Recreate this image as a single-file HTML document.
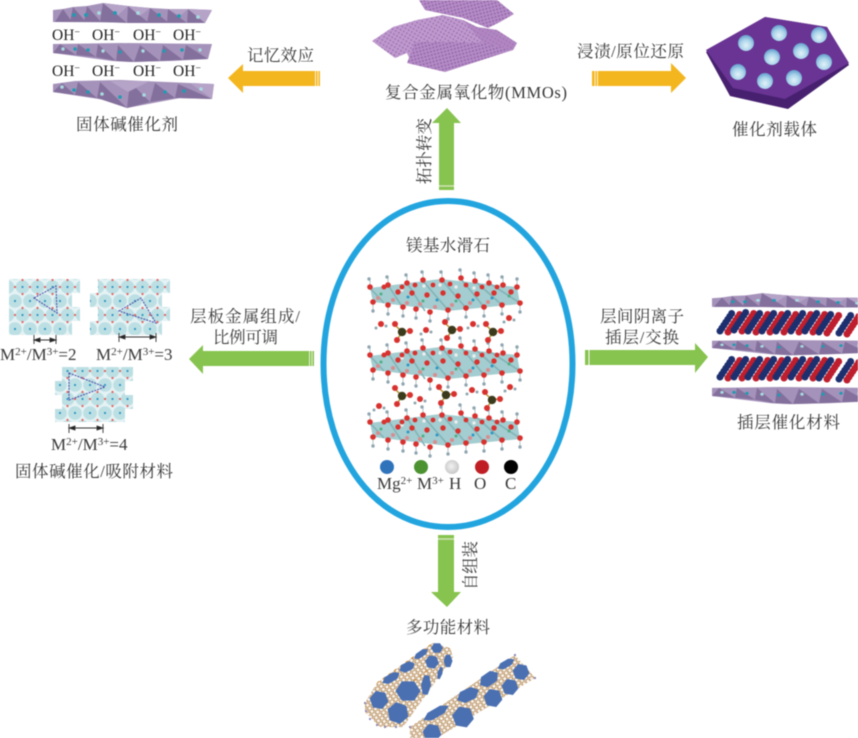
<!DOCTYPE html>
<html><head><meta charset="utf-8"><style>
html,body{margin:0;padding:0;background:#fff;width:858px;height:738px;overflow:hidden}
svg{display:block;filter:blur(.5px)}
text{font-family:"Liberation Serif","Noto Serif CJK SC",serif;fill:#383838;font-size:16.5px}
.s{font-family:"Liberation Serif",serif;font-size:17px}
.oh{font-family:"Liberation Serif",serif;font-size:15.5px;fill:#222}
</style></head><body>
<svg width="858" height="738" viewBox="0 0 858 738" xmlns="http://www.w3.org/2000/svg">
<defs>
<radialGradient id="ball" cx=".5" cy=".65" r=".6"><stop offset="0" stop-color="#e4f2f8"/><stop offset=".6" stop-color="#a9d3ea"/><stop offset="1" stop-color="#6ea6d2"/></radialGradient>
<radialGradient id="hg" cx=".45" cy=".45" r=".6"><stop offset="0" stop-color="#f2f2f2"/><stop offset="1" stop-color="#c4c4c4"/></radialGradient>
<pattern id="sheet" width="3.6" height="3.6" patternUnits="userSpaceOnUse" patternTransform="rotate(30)"><rect width="3.6" height="3.6" fill="#bf9ace"/><circle cx="1.8" cy="1.8" r="1" fill="#a277b5"/></pattern>
<pattern id="sheet2" width="3.4" height="3.4" patternUnits="userSpaceOnUse" patternTransform="rotate(-15)"><rect width="3.4" height="3.4" fill="#b48cc5"/><circle cx="1.7" cy="1.7" r="1" fill="#9566ab"/></pattern>
<pattern id="lat" width="15" height="28" patternUnits="userSpaceOnUse">
<rect width="15" height="28" fill="#e4f2f4"/>
<circle cx="7.5" cy="7" r="6.8" fill="#bcdfe3"/><circle cx="0" cy="21" r="6.8" fill="#bcdfe3"/><circle cx="15" cy="21" r="6.8" fill="#bcdfe3"/>
<circle cx="7.5" cy="7" r="1.1" fill="#2f97c4"/><circle cx="0" cy="21" r="1.1" fill="#2f97c4"/><circle cx="15" cy="21" r="1.1" fill="#2f97c4"/>
<circle cx="0" cy="7" r="1.1" fill="#e45f5b"/><circle cx="15" cy="7" r="1.1" fill="#e45f5b"/><circle cx="7.5" cy="0" r="1.1" fill="#e45f5b"/><circle cx="7.5" cy="14" r="1.1" fill="#e45f5b"/><circle cx="7.5" cy="28" r="1.1" fill="#e45f5b"/>
</pattern>
<pattern id="mesh" width="4.4" height="3.8" patternUnits="userSpaceOnUse" patternTransform="rotate(-35)"><rect width="4.4" height="3.8" fill="#f8f3ec"/><path d="M0 1.900 1.100 0h2.200l1.100 1.900-1.100 1.900H1.100z" fill="none" stroke="#b28550" stroke-width=".7"/></pattern>
<polygon id="hx" points="1,0 .5,.87 -.5,.87 -1,0 -.5,-.87 .5,-.87" fill="#4a70b2"/>

<g id="L1">
<polygon points="53,10 63,9 73,7 87,6 103,3 128,6 150,8 168,9 188,9 212,10 205,23 53,22" fill="#a592ba"/>
<g fill="#84709c">
<polygon points="63,9 55,22 72,22"/><polygon points="73,7 70,22 86,22"/><polygon points="87,6 84,22 101,22"/><polygon points="103,3 100,22 127,23"/><polygon points="128,6 127,23 149,23"/><polygon points="150,8 147,23 169,23"/><polygon points="168,9 167,23 187,23"/><polygon points="188,9 187,23 205,23"/>
</g>
<g fill="#b5a3c8"><polygon points="103,3 128,6 118,15"/><polygon points="128,6 150,8 140,16"/><polygon points="188,9 212,10 205,23"/><polygon points="168,9 188,9 180,16"/></g>
<g fill="#1d9cb3"><circle cx="74" cy="15" r="1.9"/><circle cx="86" cy="15" r="1.9"/><circle cx="99" cy="13" r="1.9" fill="#a8dbe0"/><circle cx="115" cy="13" r="1.9"/><circle cx="138" cy="13" r="1.9" fill="#a8dbe0"/><circle cx="159" cy="15" r="1.9"/><circle cx="179" cy="16" r="1.900"/><circle cx="198" cy="17" r="1.900" fill="#a8dbe0"/></g>
</g>
<g id="L2">
<polygon points="53,44 120,43 212,44 208,59 170,61 130,62 112,61 53,53" fill="#a592ba"/>
<g fill="#84709c"><polygon points="60,44 53,53 76,55"/><polygon points="78,44 76,55 96,57"/><polygon points="98,44 96,57 116,61"/><polygon points="118,45 116,61 134,62"/><polygon points="140,45 134,62 160,61"/><polygon points="163,45 160,61 183,60"/><polygon points="186,45 183,60 208,59"/></g>
<g fill="#1d9cb3"><circle cx="63" cy="49" r="1.700" fill="#a8dbe0"/><circle cx="75" cy="49" r="1.700"/><circle cx="88" cy="50" r="1.700"/><circle cx="103" cy="51" r="1.700" fill="#a8dbe0"/><circle cx="120" cy="52" r="1.700"/><circle cx="143" cy="51" r="1.700" fill="#a8dbe0"/><circle cx="164" cy="51" r="1.700"/><circle cx="182" cy="50" r="1.700"/><circle cx="200" cy="50" r="1.700" fill="#a8dbe0"/></g>
</g>
<g id="L3">
<polygon points="53,84 75,81 120,80 190,83 214,84 212,99 180,98 127,108 105,100 53,92" fill="#a592ba"/>
<g fill="#84709c"><polygon points="62,83 53,92 75,95"/><polygon points="78,82 75,95 97,98"/><polygon points="100,82 97,98 127,108"/><polygon points="130,82 127,108 150,102"/><polygon points="155,83 150,102 175,98"/><polygon points="178,84 175,98 212,99"/></g>
<g fill="#b5a3c8"><polygon points="110,81 150,81 128,92"/><polygon points="190,83 214,84 212,99"/></g>
<g fill="#1d9cb3"><circle cx="62" cy="87" r="1.800" fill="#a8dbe0"/><circle cx="74" cy="90" r="1.800"/><circle cx="88" cy="92" r="1.800"/><circle cx="102" cy="94" r="1.800" fill="#a8dbe0"/><circle cx="120" cy="97" r="1.800"/><circle cx="144" cy="95" r="1.800" fill="#a8dbe0"/><circle cx="165" cy="92" r="1.800"/><circle cx="184" cy="91" r="1.800"/><circle cx="201" cy="89" r="1.800" fill="#a8dbe0"/></g>
</g>

<g id="ldh">
<polygon points="370,288 440,279 517,287 520,304 448,311 373,302" fill="#a3cdd0"/>
<path d="M370 288 384 303M388 285 403 308M407 283 425 311M423 281 448 310M442 280 466 308M461 279 484 307M475 281 502 305M489 283 520 303" stroke="#82b3b7" stroke-width="1.600" fill="none"/>
<g stroke="#b4c3c9" stroke-width="1"><path d="M370 287v-7M388 285v-7M407 283v-7M423 280v-7M442 280v-7M461 278v-7M475 281v-7M489 283v-7M503 285v-7M517 287v-7M373 302v8M388 305v8M403 307v8M416 309v8M430 312v8M448 310v8M466 308v8M484 307v8M502 305v8M520 303v8"/></g>
<g fill="#8fa6b0"><circle cx="369" cy="279" r="1.700"/><circle cx="387" cy="277" r="1.700"/><circle cx="406" cy="275" r="1.700"/><circle cx="422" cy="272" r="1.700"/><circle cx="441" cy="272" r="1.700"/><circle cx="460" cy="270" r="1.700"/><circle cx="474" cy="273" r="1.700"/><circle cx="488" cy="275" r="1.700"/><circle cx="502" cy="277" r="1.700"/><circle cx="517" cy="279" r="1.700"/>
<circle cx="373" cy="311" r="1.700"/><circle cx="388" cy="314" r="1.700"/><circle cx="403" cy="316" r="1.700"/><circle cx="416" cy="318" r="1.700"/><circle cx="430" cy="321" r="1.700"/><circle cx="448" cy="319" r="1.700"/><circle cx="466" cy="317" r="1.700"/><circle cx="484" cy="316" r="1.700"/><circle cx="502" cy="314" r="1.700"/><circle cx="520" cy="312" r="1.700"/></g>
<g fill="#eeeeee"><circle cx="402" cy="290" r="1.700"/><circle cx="424" cy="286" r="1.700"/><circle cx="440" cy="285" r="1.700"/><circle cx="456" cy="287" r="1.700"/><circle cx="474" cy="288" r="1.700"/></g>
<g fill="#d78e90"><circle cx="378" cy="298" r="2"/><circle cx="393" cy="300" r="2"/><circle cx="407" cy="303" r="2"/><circle cx="420" cy="304" r="2"/><circle cx="435" cy="307" r="2"/><circle cx="452" cy="305" r="2"/><circle cx="470" cy="303" r="2"/><circle cx="488" cy="302" r="2"/></g>
<g fill="#2f97c4"><circle cx="408" cy="297" r="1.500"/><circle cx="437" cy="300" r="1.500"/><circle cx="473" cy="300" r="1.500"/><circle cx="492" cy="298" r="1.500"/></g>
<g fill="#4fae84"><circle cx="381" cy="294" r="1.500"/><circle cx="423" cy="301" r="1.500"/><circle cx="456" cy="301" r="1.500"/><circle cx="509" cy="296" r="1.500"/></g>
<g fill="#d8322f"><circle cx="370" cy="287" r="2.800"/><circle cx="388" cy="285" r="2.800"/><circle cx="407" cy="283" r="2.800"/><circle cx="423" cy="280" r="2.800"/><circle cx="442" cy="280" r="2.800"/><circle cx="461" cy="278" r="2.800"/><circle cx="475" cy="281" r="2.800"/><circle cx="489" cy="283" r="2.800"/><circle cx="503" cy="285" r="2.800"/><circle cx="517" cy="287" r="2.800"/>
<circle cx="384" cy="287" r="2.500"/><circle cx="398" cy="292" r="2.700"/><circle cx="412" cy="293" r="2.700"/><circle cx="427" cy="295" r="2.700"/><circle cx="443" cy="293" r="2.700"/><circle cx="458" cy="296" r="2.700"/><circle cx="477" cy="294" r="2.700"/><circle cx="494" cy="293" r="2.700"/><circle cx="511" cy="292" r="2.700"/>
<circle cx="402" cy="287" r="2.400"/><circle cx="415" cy="285" r="2.400"/><circle cx="433" cy="285" r="2.400"/><circle cx="450" cy="284" r="2.400"/><circle cx="466" cy="285" r="2.400"/><circle cx="482" cy="287" r="2.400"/><circle cx="497" cy="287" r="2.400"/>
<circle cx="373" cy="302" r="2.800"/><circle cx="388" cy="305" r="2.800"/><circle cx="403" cy="307" r="2.800"/><circle cx="416" cy="309" r="2.800"/><circle cx="430" cy="312" r="2.800"/><circle cx="448" cy="310" r="2.800"/><circle cx="466" cy="308" r="2.800"/><circle cx="484" cy="307" r="2.800"/><circle cx="502" cy="305" r="2.800"/><circle cx="520" cy="303" r="2.800"/></g>
</g>
<g id="co3"><path d="M0 0-7-7M0 0 7-1M0 0-5 8" stroke="#b9962f" stroke-width="1.500"/><circle r="4.200" fill="#3b3a1c"/><circle cx="-7" cy="-8" r="3" fill="#d8322f"/><circle cx="8" cy="-1" r="3" fill="#d8322f"/><circle cx="-5" cy="8" r="3" fill="#d8322f"/></g>
<g id="w"><circle r="3" fill="#d8322f"/><circle cx="-5" cy="4" r="1.500" fill="#8fa6b0"/><circle cx="5" cy="2" r="1.500" fill="#8fa6b0"/></g>
<g id="pair" fill="none" stroke-linecap="round" stroke-width="7" stroke-dasharray="0 3.500"><path d="M1 20 13 2" stroke="#1d2f6e"/><path d="M9 21 21 3" stroke="#be1e2d"/></g>
</defs>

<!-- top-left layered solid -->
<use href="#L1"/><use href="#L2"/><use href="#L3"/>
<text class="oh" x="52" y="40">OH<tspan dy="-5" font-size="10">−</tspan></text>
<text class="oh" x="92" y="40">OH<tspan dy="-5" font-size="10">−</tspan></text>
<text class="oh" x="133" y="40">OH<tspan dy="-5" font-size="10">−</tspan></text>
<text class="oh" x="173" y="40">OH<tspan dy="-5" font-size="10">−</tspan></text>
<text class="oh" x="52" y="76">OH<tspan dy="-5" font-size="10">−</tspan></text>
<text class="oh" x="92" y="76">OH<tspan dy="-5" font-size="10">−</tspan></text>
<text class="oh" x="133" y="76">OH<tspan dy="-5" font-size="10">−</tspan></text>
<text class="oh" x="173" y="76">OH<tspan dy="-5" font-size="10">−</tspan></text>
<text x="76" y="130" textLength="102">固体碱催化剂</text>
<text x="247" y="61" textLength="67">记忆效应</text>
<polygon points="228,78 243,64 243,71 320,71 320,86 243,86 243,93" fill="#f3b61f"/>
<path d="M315.500 71v15M318 71v15" stroke="#fff" stroke-width=".8"/>

<!-- MMOs -->
<polygon points="419,0 497,0 514,14 500,22 488,28 463,18 425,10" fill="url(#sheet2)"/>
<polygon points="372,41 393,27 417,20 443,15 463,20 477,27 497,30 517,43 513,50 467,57 410,60 407,53 395,58" fill="url(#sheet)"/>
<polygon points="415,42 450,42 483,43 513,50 445,72 407,63" fill="url(#sheet2)"/>
<polygon points="463,20 477,27 497,30 517,43 513,50 483,43" fill="#a578b8" opacity=".55"/>
<text x="385" y="98" textLength="182">复合金属氧化物(MMOs)</text>
<text x="577" y="57" textLength="107">浸渍/原位还原</text>
<polygon points="592,71 671,71 671,63 686,78 671,93 671,86 592,86" fill="#f3b61f"/>
<path d="M595 71v15M597.500 71v15" stroke="#fff" stroke-width=".8"/>

<!-- hexagon support -->
<polygon points="765,17 827,27 849,65 788,109 730,96 706,52" fill="#47206f"/>
<polygon points="765,17 827,27 849,63 785,99 733,88 706,50" fill="#693493"/>
<g fill="url(#ball)"><circle cx="746" cy="43" r="8"/><circle cx="779" cy="33" r="8"/><circle cx="819" cy="35" r="8"/><circle cx="772" cy="57" r="8"/><circle cx="801" cy="51" r="8"/><circle cx="824" cy="62" r="8"/><circle cx="738" cy="72" r="8"/><circle cx="765" cy="81" r="8"/><circle cx="794" cy="78" r="8"/></g>
<text x="732" y="135" textLength="85">催化剂载体</text>

<!-- up arrow -->
<polygon points="447,108 461,123 454,123 454,190 439,190 439,123 432,123" fill="#87c34f"/>
<path d="M439 186h15" stroke="#cfe6b5" stroke-width="1.500"/>
<text transform="translate(430,184) rotate(-90)" textLength="66">拓扑转变</text>

<!-- centre -->
<path d="M448 201C519 201 572.500 271 572.500 364C572.500 457 519 527 448 527C377 527 323.500 457 323.500 364C323.500 271 377 201 448 201Z" fill="#fff" stroke="#22a5df" stroke-width="6"/>
<text x="406" y="251" textLength="84">镁基水滑石</text>
<use href="#ldh"/><use href="#ldh" y="68"/><use href="#ldh" y="135"/>
<use href="#co3" x="402" y="332"/><use href="#co3" x="452" y="330"/><use href="#co3" x="493" y="332"/>
<use href="#w" x="381" y="324"/><use href="#w" x="426" y="330"/><use href="#w" x="473" y="324"/><use href="#w" x="509" y="318"/>
<use href="#co3" x="402" y="396"/><use href="#co3" x="446" y="395"/><use href="#co3" x="492" y="400"/>
<use href="#w" x="379" y="406"/><use href="#w" x="420" y="399"/><use href="#w" x="472" y="390"/><use href="#w" x="510" y="387"/>
<circle cx="387" cy="467" r="7" fill="#2f73bb"/><circle cx="421" cy="467" r="7" fill="#4c9231"/><circle cx="452" cy="467" r="7" fill="url(#hg)"/><circle cx="482" cy="467" r="7" fill="#bf1e24"/><circle cx="511" cy="467" r="7" fill="#000"/>
<text class="s" x="377" y="489">Mg<tspan dy="-5" font-size="11">2+</tspan></text>
<text class="s" x="417" y="489">M<tspan dy="-5" font-size="11">3+</tspan></text>
<text class="s" x="449" y="489">H</text>
<text class="s" x="474" y="489">O</text>
<text class="s" x="505" y="489">C</text>

<!-- left lattices -->
<polygon points="9,279 80,279 80,293 72,293 72,307 80,307 80,321 72,321 72,335 9,335" fill="url(#lat)"/>
<polygon points="98,279 170,279 170,293 162,293 162,307 170,307 170,321 162,321 162,335 90,335 90,321 98,321 98,307 90,307 90,293 98,293" fill="url(#lat)"/>
<polygon points="62,367 133,367 133,381 125,381 125,395 133,395 133,409 125,409 125,422 55,422 55,409 62,409 62,395 55,395 55,381 62,381" fill="url(#lat)"/>
<g fill="none" stroke="#4a52a8" stroke-width="1.100" stroke-dasharray="2 1">
<polygon points="34,298 56,286 57,313"/><polygon points="119,311 141,298 156,323"/><polygon points="69,373 105,387 69,400"/>
</g>
<g stroke="#333" stroke-width=".9" fill="#222">
<path d="M34 335v9M56 335v9M34 340H56M119 333v9M156 333v9M119 337H156M69 424v9M103 424v9M69 428H103"/>
<path d="M34 340l6-2v4zM56 340l-6-2v4zM119 337l6-2v4zM156 337l-6-2v4zM69 428l6-2v4zM103 428l-6-2v4z"/>
</g>
<text class="s" x="0" y="360">M<tspan dy="-5" font-size="11">2+</tspan><tspan dy="5">/M</tspan><tspan dy="-5" font-size="11">3+</tspan><tspan dy="5">=2</tspan></text>
<text class="s" x="96" y="360">M<tspan dy="-5" font-size="11">2+</tspan><tspan dy="5">/M</tspan><tspan dy="-5" font-size="11">3+</tspan><tspan dy="5">=3</tspan></text>
<text class="s" x="51" y="450">M<tspan dy="-5" font-size="11">2+</tspan><tspan dy="5">/M</tspan><tspan dy="-5" font-size="11">3+</tspan><tspan dy="5">=4</tspan></text>
<text x="15" y="477" textLength="158">固体碱催化/吸附材料</text>
<text x="190" y="322" textLength="110">层板金属组成/</text>
<text x="213" y="343" textLength="65">比例可调</text>
<polygon points="189,359 203,345 203,351 314,351 314,366 203,366 203,374" fill="#87c34f"/>
<path d="M309.500 351v15M312 351v15" stroke="#fff" stroke-width=".8"/>

<!-- right intercalated -->
<text x="600" y="322" textLength="84">层间阴离子</text>
<text x="605" y="343" textLength="74">插层/交换</text>
<polygon points="585,350 695,350 695,343 708,357 695,373 695,365 585,365" fill="#87c34f"/>
<path d="M589 350v15" stroke="#fff" stroke-width="1"/>
<use href="#L1" transform="translate(659,291) scale(1,.72)"/>
<use href="#L2" transform="translate(659,305.600) scale(1,.8)"/>
<use href="#L2" transform="translate(659,348.300) scale(1,.9)"/>
<use href="#pair" x="719" y="311"/><use href="#pair" x="733" y="310"/><use href="#pair" x="747" y="311"/><use href="#pair" x="761" y="311"/><use href="#pair" x="775" y="311"/><use href="#pair" x="790" y="311"/><use href="#pair" x="804" y="311"/><use href="#pair" x="818" y="312"/><use href="#pair" x="838" y="313"/>
<use href="#pair" x="719" y="357"/><use href="#pair" x="733" y="357"/><use href="#pair" x="747" y="357"/><use href="#pair" x="761" y="357"/><use href="#pair" x="775" y="357"/><use href="#pair" x="790" y="357"/><use href="#pair" x="804" y="357"/><use href="#pair" x="818" y="358"/><use href="#pair" x="838" y="359"/>
<text x="737" y="428" textLength="103">插层催化材料</text>

<!-- bottom -->
<polygon points="438,535 454,535 454,592 461,592 447,607 431,592 438,592" fill="#87c34f"/>
<path d="M438 539h16" stroke="#cfe6b5" stroke-width="1.500"/>
<text transform="translate(476,590) rotate(-90)" textLength="49">自组装</text>
<text x="406" y="633" textLength="84">多功能材料</text>

<polygon points="365,703 377,683 433,643 450,648 453,657 438,678 403,727 380,727 365,712" fill="url(#mesh)"/>
<polygon points="410,727 515,655 535,678 437,738 410,738" fill="url(#mesh)"/>
<path d="M377 683 433 643M403 690 440 660" stroke="#c98a3a" stroke-width="1" stroke-dasharray="3 4" fill="none"/>
<use href="#hx" transform="translate(379,700) rotate(10) scale(9.500)"/>
<use href="#hx" transform="translate(408,691) rotate(0) scale(12.500,11)"/>
<use href="#hx" transform="translate(398,713) rotate(20) scale(11)"/>
<use href="#hx" transform="translate(426,685) rotate(5) scale(5,11)"/>
<use href="#hx" transform="translate(432,662) rotate(10) scale(7)"/>
<use href="#hx" transform="translate(437,648) rotate(0) scale(6,5.500)"/>
<use href="#hx" transform="translate(448,661) rotate(0) scale(4.500,7)"/>
<use href="#hx" transform="translate(440,673) rotate(15) scale(2.500,7)"/>
<use href="#hx" transform="translate(407,667) rotate(-25) scale(8.500,5)"/>
<use href="#hx" transform="translate(391,678) rotate(-30) scale(10,4.500)"/>
<use href="#hx" transform="translate(421,654) rotate(-35) scale(8.500,3.500)"/>
<use href="#hx" transform="translate(432,733) rotate(10) scale(9.500)"/>
<use href="#hx" transform="translate(463,717) rotate(10) scale(11)"/>
<use href="#hx" transform="translate(436,713) rotate(-30) scale(14.500,5)"/>
<use href="#hx" transform="translate(468,695) rotate(-25) scale(12,7)"/>
<use href="#hx" transform="translate(493,698) rotate(10) scale(9.500)"/>
<use href="#hx" transform="translate(489,679) rotate(-35) scale(11,7)"/>
<use href="#hx" transform="translate(510,687) rotate(10) scale(8.500)"/>
<use href="#hx" transform="translate(521,672) rotate(10) scale(8.500)"/>
<use href="#hx" transform="translate(506,664) rotate(-30) scale(9.500,4)"/>
<g fill="#8a82b8"><circle cx="365" cy="703" r="1.100"/><circle cx="366" cy="711" r="1.100"/><circle cx="370" cy="719" r="1.100"/><circle cx="377" cy="725" r="1.100"/><circle cx="385" cy="727" r="1.100"/><circle cx="396" cy="727" r="1.100"/><circle cx="410" cy="727" r="1.100"/><circle cx="535" cy="678" r="1.100"/><circle cx="515" cy="655" r="1.100"/></g>
</svg>
</body></html>
